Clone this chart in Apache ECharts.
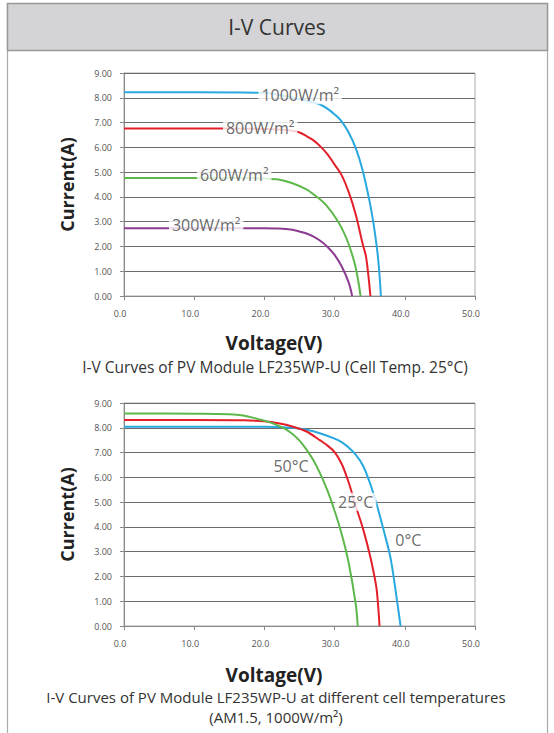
<!DOCTYPE html>
<html><head><meta charset="utf-8">
<script src="https://cdn.jsdelivr.net/npm/echarts@6/dist/echarts.min.js"></script>
<style>html,body{margin:0;padding:0;background:#fff}#c{width:554px;height:733px}</style>
</head><body><div id="c"></div>
<script>
// ---- Data: chart 1 (irradiance) ----
const v1000 = [0, 10, 20, 22, 24, 26, 28, 29, 30, 31, 32, 33, 34, 35, 35.5, 36, 36.3, 36.6];
const i1000 = [8.22, 8.22, 8.2, 8.12, 8.0, 7.88, 7.72, 7.55, 7.33, 7.05, 6.6, 5.98, 5.07, 3.8, 3.0, 2.0, 1.2, 0];
const v800 = [0, 10, 15, 20, 22, 24, 25, 26, 27, 28, 29, 30, 31, 32, 33, 34, 34.5, 35.1];
const i800 = [6.76, 6.76, 6.76, 6.74, 6.72, 6.67, 6.6, 6.45, 6.28, 6.03, 5.72, 5.3, 4.88, 4.2, 3.3, 2.1, 1.55, 0];
const v600 = [0, 10, 16, 20, 22, 24, 26, 27, 28, 29, 30, 31, 32, 33, 33.7];
const i600 = [4.76, 4.76, 4.76, 4.74, 4.7, 4.55, 4.3, 4.1, 3.88, 3.6, 3.22, 2.75, 2.1, 1.15, 0];
const v300 = [0, 10, 17, 20, 22, 24, 25, 26, 27, 28, 29, 30, 31, 32, 32.5];
const i300 = [2.73, 2.73, 2.73, 2.73, 2.72, 2.67, 2.6, 2.52, 2.4, 2.22, 1.98, 1.66, 1.2, 0.55, 0];
const irrLabels = ['1000W/m²', '800W/m²', '600W/m²', '300W/m²'];
const irrLabelV = [25.1, 19.4, 15.7, 11.7];
const irrLabelI = [8.1, 6.79, 4.87, 2.87];

// ---- Data: chart 2 (temperature) ----
const v0C = [0, 10, 20, 24, 26, 28, 30, 31, 32, 33, 34, 35, 36, 37, 38, 39, 39.4];
const i0C = [8.04, 8.04, 8.04, 8.0, 7.92, 7.77, 7.56, 7.42, 7.2, 6.92, 6.5, 5.8, 4.9, 3.85, 2.7, 0.8, 0];
const v25C = [0, 10, 17, 20, 22, 24, 26, 28, 29, 30, 31, 32, 33, 34, 35, 35.5, 36, 36.4];
const i25C = [8.31, 8.31, 8.3, 8.26, 8.18, 8.05, 7.85, 7.48, 7.28, 7.02, 6.55, 5.8, 4.85, 3.97, 2.9, 2.25, 1.45, 0];
const v50C = [0, 10, 15, 17, 19, 21, 23, 24, 25, 26, 27, 28, 29, 30, 31, 32, 33, 33.3];
const i50C = [8.58, 8.57, 8.55, 8.5, 8.36, 8.2, 7.95, 7.75, 7.48, 7.12, 6.68, 6.12, 5.45, 4.65, 3.72, 2.55, 0.9, 0];
const tempLabels = ['50°C', '25°C', '0°C'];
const tempLabelV = [23.8, 33.0, 40.5];
const tempLabelI = [6.45, 5.01, 3.47];

// ---- Texts ----
const headerTitle = 'I-V Curves';
const yName = 'Current(A)';
const xName = 'Voltage(V)';
const caption1 = 'I-V Curves of PV Module LF235WP-U (Cell Temp. 25°C)';
const caption2a = 'I-V Curves of PV Module LF235WP-U at different cell temperatures';
const caption2b = '(AM1.5, 1000W/m²)';

const FONT = 'Open Sans';
const zip = (a, b) => a.map((x, k) => [x, b[k]]);

function xAxis(idx) {
  return {
    gridIndex: idx, type: 'value', min: 0, max: 50, interval: 10,
    name: xName, nameLocation: 'middle', nameGap: idx === 0 ? 37 : 39,
    nameTextStyle: { fontFamily: FONT, fontSize: 19, fontWeight: 'bold', color: '#222', padding: [0, 51, 0, 0] },
    axisLine: { show: true, lineStyle: { color: '#888', width: 1 } },
    axisTick: { show: true, length: 4, lineStyle: { color: '#888' } },
    axisLabel: { fontFamily: FONT, fontSize: 9, color: '#555', margin: 13, padding: [0, 8, 0, 0],
      formatter: v => v.toFixed(1) },
    splitLine: { show: false }
  };
}
function yAxis(idx) {
  return {
    gridIndex: idx, type: 'value', min: 0, max: 9, interval: 1,
    name: yName, nameLocation: 'middle', nameGap: 48, nameRotate: 90,
    nameTextStyle: { fontFamily: FONT, fontSize: 18, fontWeight: 'bold', color: '#222' },
    axisLine: { show: true, lineStyle: { color: '#888', width: 1 } },
    axisTick: { show: true, length: 4, lineStyle: { color: '#888' } },
    axisLabel: { fontFamily: FONT, fontSize: 9, color: '#555', margin: 12,
      formatter: v => v.toFixed(2) },
    splitLine: { show: true, lineStyle: { color: '#6a6a6a', width: 1 } }
  };
}
function curve(name, xs, ys, color, g) {
  return { type: 'line', name, xAxisIndex: g, yAxisIndex: g, data: zip(xs, ys),
    smooth: 0.35, showSymbol: false, symbol: 'none', silent: true,
    lineStyle: { color, width: 2 }, z: 3 };
}
function labels(names, xs, ys, g, bgs, size) {
  return { type: 'scatter', xAxisIndex: g, yAxisIndex: g, symbolSize: 0, silent: true, z: 10,
    data: names.map((n, k) => ({ name: n, value: [xs[k], ys[k]],
      label: { backgroundColor: bgs[k] ? '#fff' : 'transparent' } })),
    label: { show: true, position: 'inside', formatter: '{b}', fontFamily: FONT, fontSize: size,
      color: '#444', padding: [1, 3, 1, 3] } };
}

const chart = echarts.init(document.getElementById('c'), null, { renderer: 'svg' });
chart.setOption({
  animation: false,
  backgroundColor: '#fff',
  grid: [
    { left: 124, top: 73, width: 351, height: 223, show: true, borderColor: '#aaa', borderWidth: 1, backgroundColor: 'transparent' },
    { left: 124, top: 403, width: 351, height: 223, show: true, borderColor: '#aaa', borderWidth: 1, backgroundColor: 'transparent' }
  ],
  xAxis: [xAxis(0), xAxis(1)],
  yAxis: [yAxis(0), yAxis(1)],
  series: [
    curve('1000W/m²', v1000, i1000, '#29a8e0', 0),
    curve('800W/m²', v800, i800, '#e3202a', 0),
    curve('600W/m²', v600, i600, '#5db84b', 0),
    curve('300W/m²', v300, i300, '#8c3b90', 0),
    labels(irrLabels, irrLabelV, irrLabelI, 0, [1, 1, 1, 1], 16),
    curve('0°C', v0C, i0C, '#29a8e0', 1),
    curve('25°C', v25C, i25C, '#e3202a', 1),
    curve('50°C', v50C, i50C, '#5db84b', 1),
    labels(tempLabels, tempLabelV, tempLabelI, 1, [0, 1, 0], 16)
  ],
  graphic: [
    { type: 'rect', shape: { x: 7.5, y: 3.5, width: 540, height: 760 }, style: { fill: 'none', stroke: '#aaa', lineWidth: 1.2 }, z: 1 },
    { type: 'rect', shape: { x: 7.5, y: 3.5, width: 540, height: 47 }, style: { fill: '#d4d4d6', stroke: '#999', lineWidth: 1.5 }, z: 2 },
    { type: 'text', style: { x: 277, y: 27, text: headerTitle, align: 'center', verticalAlign: 'middle', fontFamily: FONT, fontSize: 21, fill: '#333' }, z: 3 },
    { type: 'text', style: { x: 275, y: 367, text: caption1, align: 'center', verticalAlign: 'middle', fontFamily: FONT, fontSize: 15.5, fill: '#333' }, z: 3 },
    { type: 'text', style: { x: 276, y: 697, text: caption2a, align: 'center', verticalAlign: 'middle', fontFamily: FONT, fontSize: 15, fill: '#333' }, z: 3 },
    { type: 'text', style: { x: 276, y: 717, text: caption2b, align: 'center', verticalAlign: 'middle', fontFamily: FONT, fontSize: 15, fill: '#333' }, z: 3 }
  ]
});
</script></body></html>
